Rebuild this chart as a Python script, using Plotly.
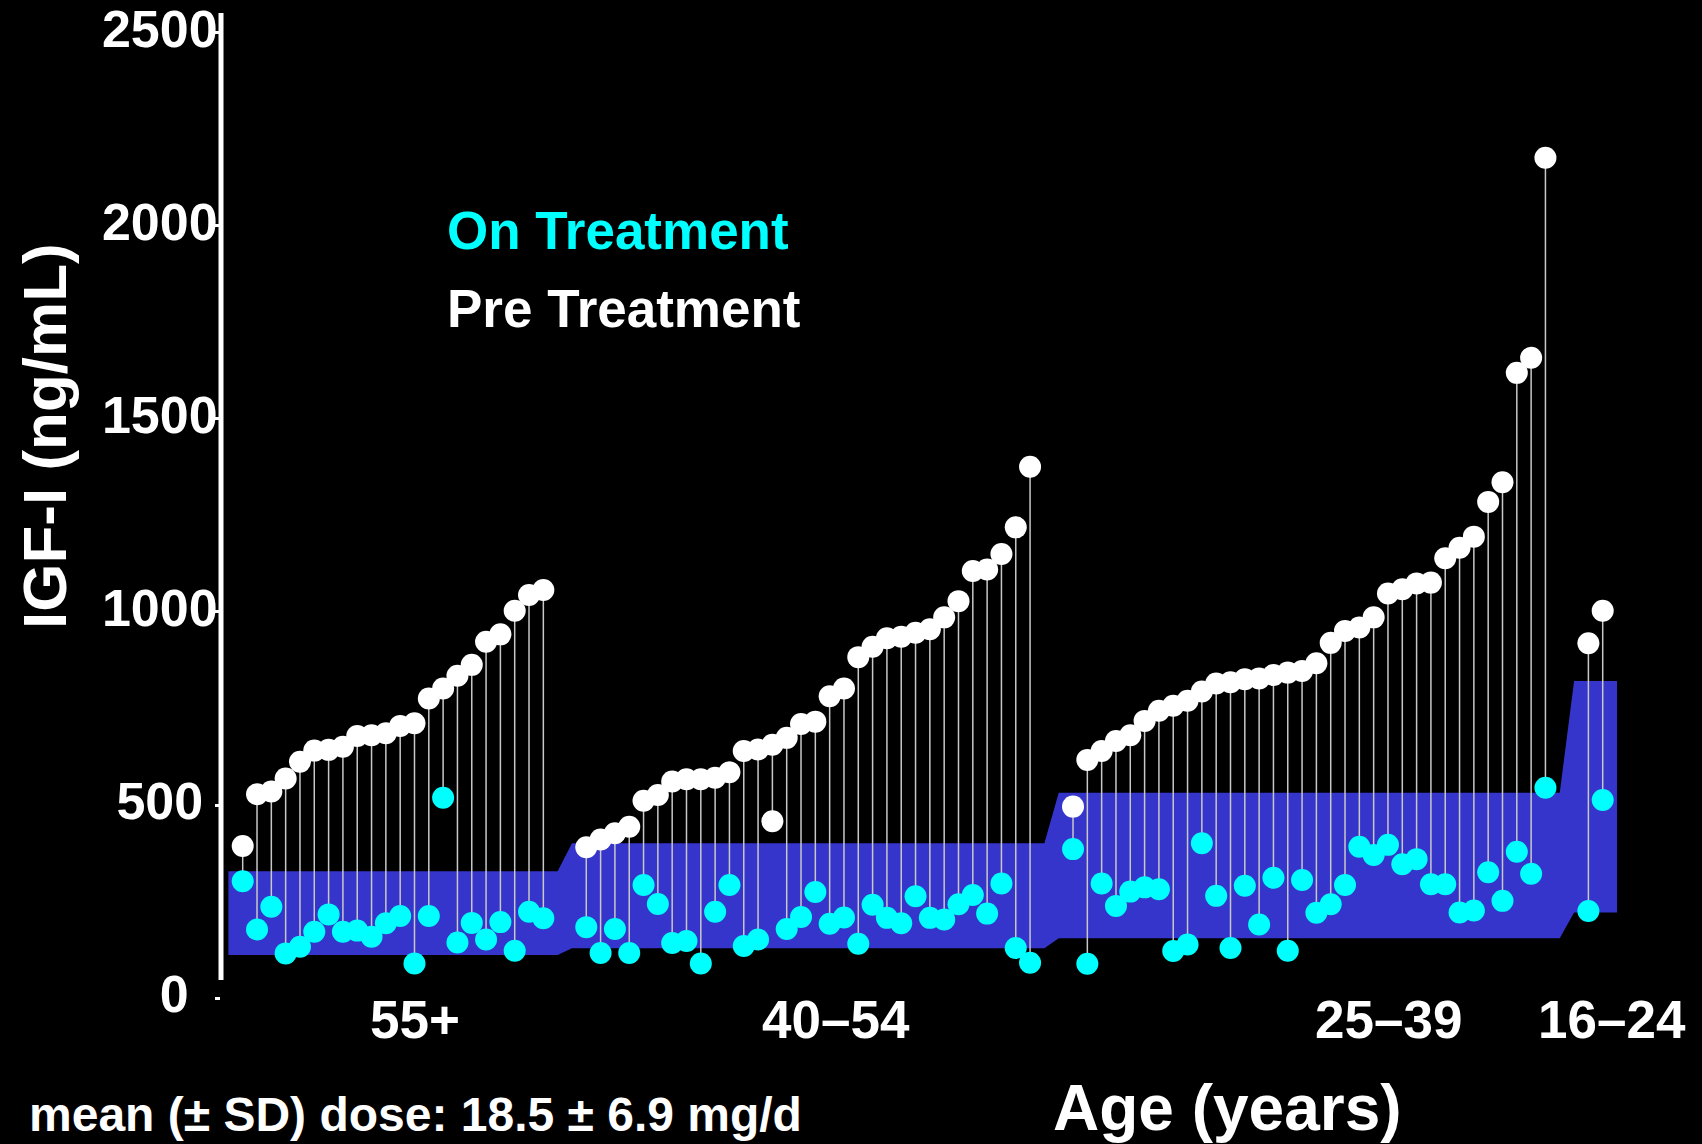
import plotly.graph_objects as go


# ---- data (IGF-I, ng/mL), patients sorted by pre-treatment value ----

age_groups = ["55+", "40–54", "25–39", "16–24"]

pre_55 = [394, 528, 535, 569, 612, 641, 643, 651, 679, 681, 686, 705, 712,
          776, 802, 835, 863, 923, 942, 1003, 1044, 1057]
on_55 = [303, 178, 237, 116, 133, 172, 217, 172, 175, 159, 194, 213, 90,
         213, 519, 144, 195, 152, 197, 123, 224, 207]

pre_40 = [391, 411, 427, 444, 511, 526, 561, 567, 567, 571, 585, 640, 644,
          656, 674, 710, 716, 782, 802, 883, 910, 932, 936, 946, 955, 986,
          1028, 1106, 1110, 1150, 1219, 1376]
on_40 = [184, 117, 179, 117, 293, 244, 143, 148, 90, 224, 293, 135, 152,
         458, 179, 210, 275, 193, 209, 141, 242, 208, 194, 264, 208, 204,
         243, 267, 219, 297, 130, 92]

pre_25 = [496, 617, 640, 666, 681, 718, 744, 757, 770, 794, 815, 818, 826,
          828, 837, 843, 847, 867, 920, 951, 960, 986, 1048, 1059, 1074, 1076,
          1139, 1166, 1195, 1285, 1336, 1619, 1658, 2176]
on_25 = [386, 89, 297, 239, 276, 287, 282, 122, 139, 401, 265, 130, 291,
         191, 312, 123, 306, 221, 243, 293, 392, 371, 397, 347, 360, 295,
         295, 222, 227, 326, 252, 379, 322, 545]

pre_16 = [919, 1003]
on_16 = [226, 513]

pre_treatment = [pre_55, pre_40, pre_25, pre_16]
on_treatment = [on_55, on_40, on_25, on_16]

# age-adjusted normal range (shaded band)
normal_low = [112, 129, 155, 222]
normal_high = [329, 401, 532, 821]

# one on-treatment value is drawn white in the original (group, patient)
white_on = [(1, 13)]

y_ticks = [0, 500, 1000, 1500, 2000, 2500]
# the short labels sit a little away from the axis in the original
y_tick_text = ["0\u00a0\u00a0", "500\u00a0", "1000", "1500", "2000", "2500"]


# ---- layout constants ----

W, H = 1702, 1144
M_L, M_R, M_T, M_B = 221, 28, 10, 144
FONT = "Liberation Sans, Arial, sans-serif"
CYAN = "#00ffff"
BAND = "#3535cc"


def to_paper(px, py):
    return (
        (px - M_L) / (W - M_L - M_R),
        (H - M_B - py) / (H - M_T - M_B)
    )


# x index for each patient, two empty slots between age groups
group_x = []
start = 0
for vals in pre_treatment:
    group_x.append(list(range(start, start + len(vals))))
    start += len(vals) + 2

# band polygon: each group's range runs one slot past its first/last patient
band_x, band_top, band_bot = [], [], []
for gx, lo, hi in zip(group_x, normal_low, normal_high):
    band_x += [gx[0] - 1, gx[-1] + 1]
    band_top += [hi, hi]
    band_bot += [lo, lo]

stem_x, stem_y = [], []
all_x, all_pre, all_on, on_colors = [], [], [], []
for g, (gx, pre, on) in enumerate(zip(group_x, pre_treatment, on_treatment)):
    for k, (x, p, o) in enumerate(zip(gx, pre, on)):
        stem_x += [x, x, None]
        stem_y += [p, o, None]
        all_x.append(x)
        all_pre.append(p)
        all_on.append(o)
        on_colors.append("white" if (g, k) in white_on else CYAN)


fig = go.Figure()

fig.add_trace(
    go.Scatter(
        x=band_x + band_x[::-1],
        y=band_top + band_bot[::-1],
        fill="toself",
        fillcolor=BAND,
        line=dict(width=0),
        mode="lines",
        hoverinfo="skip"
    )
)

fig.add_trace(
    go.Scatter(
        x=stem_x,
        y=stem_y,
        mode="lines",
        line=dict(color="#c8c8c8", width=1.5),
        hoverinfo="skip"
    )
)

fig.add_trace(
    go.Scatter(
        x=all_x,
        y=all_on,
        mode="markers",
        name="On Treatment",
        marker=dict(size=22, color=on_colors, line=dict(width=0))
    )
)

fig.add_trace(
    go.Scatter(
        x=all_x,
        y=all_pre,
        mode="markers",
        name="Pre Treatment",
        marker=dict(size=22, color="white", line=dict(width=0))
    )
)

# x range: index -1.516 sits on the y axis, 14.316 px per patient slot
fig.update_xaxes(
    range=[-1.516, 99.98],
    visible=False
)

fig.update_yaxes(
    range=[-4.66, 2558.5],
    tickvals=y_ticks,
    ticktext=y_tick_text,
    ticks="outside",
    ticklen=5,
    tickwidth=3,
    tickcolor="white",
    tickfont=dict(family=FONT, size=52, color="white", weight="bold"),
    ticklabelstandoff=-13,
    ticklabelshift=-4,
    ticklabeloverflow="allow",
    automargin=False,
    showgrid=False,
    zeroline=False,
    showline=False
)

# axis line (stops short of zero as in the original)
fig.add_shape(
    type="line",
    xref="paper", yref="y",
    x0=0, x1=0, y0=47, y1=2551,
    line=dict(color="white", width=5)
)

annotations = []

tx, ty = to_paper(44, 436)
annotations.append(dict(
    x=tx, y=ty, text="IGF-I (ng/mL)", textangle=-90,
    font=dict(family=FONT, size=62, color="white", weight="bold")
))

tx, ty = to_paper(445, 230)
annotations.append(dict(
    x=tx, y=ty, text="On Treatment", xanchor="left",
    font=dict(family=FONT, size=53, color=CYAN, weight="bold")
))

tx, ty = to_paper(445, 309)
annotations.append(dict(
    x=tx, y=ty, text="Pre Treatment", xanchor="left",
    font=dict(family=FONT, size=53, color="white", weight="bold")
))

label_x = [12.05, 41.47, 80.06, 95.65]
_, ly = to_paper(0, 1020)
for name, lx in zip(age_groups, label_x):
    annotations.append(dict(
        x=lx, y=ly, xref="x", text=name,
        font=dict(family=FONT, size=53, color="white", weight="bold")
    ))

tx, ty = to_paper(27, 1114)
annotations.append(dict(
    x=tx, y=ty, text="mean (± SD) dose: 18.5 ± 6.9 mg/d", xanchor="left",
    font=dict(family=FONT, size=48, color="white", weight="bold")
))

tx, ty = to_paper(1227, 1108)
annotations.append(dict(
    x=tx, y=ty, text="Age (years)",
    font=dict(family=FONT, size=64, color="white", weight="bold")
))

for a in annotations:
    a.setdefault("xref", "paper")
    a.setdefault("xanchor", "center")
    a["yref"] = "paper"
    a["yanchor"] = "middle"
    a["showarrow"] = False

fig.update_layout(
    width=W,
    height=H,
    margin=dict(l=M_L, r=M_R, t=M_T, b=M_B),
    paper_bgcolor="black",
    plot_bgcolor="black",
    showlegend=False,
    annotations=annotations
)

# drop the page's default body margin so the chart fills the window
fig.write_html(
    "out.html",
    config={"displayModeBar": False},
    post_script="document.body.style.margin = '0';"
)
